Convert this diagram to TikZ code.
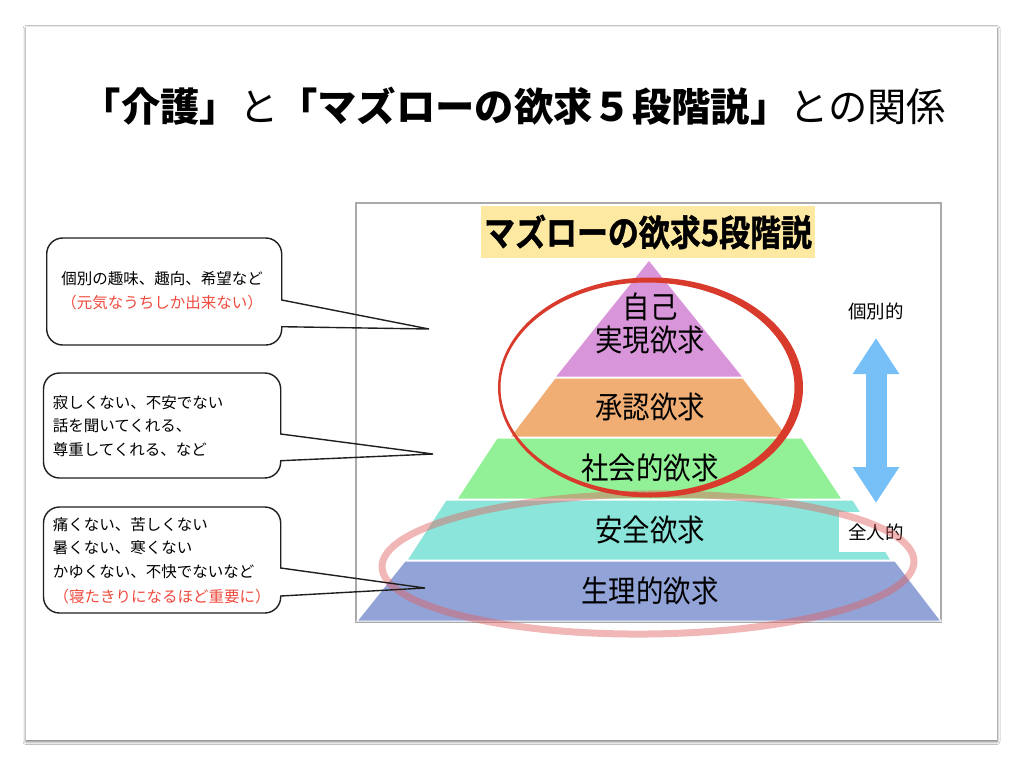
\documentclass[tikz,border=0pt]{standalone}
\usepackage{fontspec}
\setmainfont{Noto Sans CJK JP}
\newfontfamily\narrowjp[FakeStretch=0.9]{Noto Sans CJK JP}
\newfontfamily\heavyjp[FakeStretch=0.86,FakeBold=1.2,UprightFont={* Bold}]{Noto Sans CJK JP}
\usepackage{tikz}
\usetikzlibrary{arrows.meta,shadows,shadows.blur,positioning}
\definecolor{SelfPurple}{HTML}{D995D9}
\definecolor{EsteemOrange}{HTML}{F0AE74}
\definecolor{SocialGreen}{HTML}{92F097}
\definecolor{SafetyCyan}{HTML}{8CE5DA}
\definecolor{BodyBlue}{HTML}{92A3D8}
\definecolor{TitleYellow}{HTML}{FDE9A1}
\definecolor{RingRed}{HTML}{D83B2B}
\definecolor{RingPink}{HTML}{E06060}
\definecolor{ArrowBlue}{HTML}{77BFF7}
\definecolor{NoteRed}{HTML}{F04A3E}
\definecolor{FrameGray}{HTML}{AAAAAA}
\tikzset{
  slideshadow/.style={blur shadow={shadow xshift=0pt,shadow yshift=-1.5pt,shadow blur radius=3pt,shadow opacity=60}},
  headline/.style={inner sep=0pt,font=\fontsize{39.3}{41}\selectfont},
  boxtitle/.style={fill=TitleYellow,minimum width=334pt,minimum height=52pt,inner sep=0pt,font=\heavyjp\fontsize{36}{38}\selectfont},
  layer/.style={draw=white,line width=1pt},
  lvltext/.style={inner sep=0pt,align=center,font=\narrowjp\fontsize{30.5}{33}\selectfont},
  sidelabel/.style={inner sep=0pt,font=\fontsize{18.5}{20}\selectfont},
  updown/.style={{Triangle[length=36pt,width=44pt]}-{Triangle[length=36pt,width=44pt]},line width=21pt,color=ArrowBlue},
  note/.style={draw=black!88,line width=1.4pt},
  notetext/.style={inner sep=0pt,font=\fontsize{15.5}{23.7}\selectfont},
}
\begin{document}
\begin{tikzpicture}[x=1pt,y=-1pt]
  \useasboundingbox (0,0) rectangle (1024,768);
  \fill[white] (0,0) rectangle (1024,768);
  \fill[white,slideshadow] (26,27) rectangle (997,740);

  \node[headline] (title) at (514,106) {\textbf{「介護」}と\textbf{「マズローの欲求５段階説」}との関係};

  \draw[FrameGray,line width=1.3pt] (356,203) rectangle (941,622);
  \node[boxtitle] (maslow) at (648,232) {マズローの欲求5段階説};

  % pyramid, top to bottom
  \fill[layer,fill=SelfPurple] (649,260) -- (743,377) -- (555,377) -- cycle;
  \fill[layer,fill=EsteemOrange] (555,378) -- (743,378) -- (788,437) -- (510,437) -- cycle;
  \fill[layer,fill=SocialGreen] (497,438) -- (802,438) -- (842,499) -- (457,499) -- cycle;
  \fill[layer,fill=SafetyCyan] (446,500) -- (853,500) -- (891,560) -- (407,560) -- cycle;
  \fill[layer,fill=BodyBlue] (405,561) -- (895,561) -- (941,621) -- (357,621) -- cycle;
  \draw[layer] (555,377.5) -- (743,377.5) (497,437.5) -- (802,437.5) (446,499.5) -- (853,499.5) (405,560.5) -- (895,560.5);

  \node[lvltext] (self) at (650,323) {自己\\実現欲求};
  \node[lvltext] (esteem) at (650,407) {承認欲求};
  \node[lvltext] (social) at (650,468) {社会的欲求};
  \node[lvltext] (safety) at (650,530) {安全欲求};
  \node[lvltext] (body) at (650,591) {生理的欲求};

  % individual <-> whole person
  \fill[white] (839,512) rectangle (912,552);
  \node[sidelabel] (kobetsu) at (876,311) {個別的};
  \node[sidelabel] (zenjin) at (876,532) {全人的};
  \coordinate (uptip) at (876,338);
  \coordinate (downtip) at (876,503);
  \draw[updown] (uptip) -- (downtip);

  % rings
  \draw[RingPink,opacity=0.45,line width=7pt,rotate around={0.6:(648,564)}] (648,564) ellipse [x radius=266,y radius=70];
  \fill[RingRed,even odd rule] (650.5,387.5) ellipse [x radius=152.5,y radius=110] (647.5,387.5) ellipse [x radius=147,y radius=105];

  % callouts
  \coordinate (tipself) at (429,329);
  \coordinate (tipsocial) at (433,454);
  \coordinate (tipbody) at (425,588);
  \draw[note] (281.7,300) [rounded corners=16pt] -- (281.7,238) -- (46.7,238) -- (46.7,345) -- (281.7,345) [sharp corners] -- (281.7,326.7) -- (tipself) -- cycle;
  \draw[note] (280.7,434) [rounded corners=16pt] -- (280.7,373) -- (43.5,373) -- (43.5,478) -- (280.7,478) [sharp corners] -- (280.7,460.7) -- (tipsocial) -- cycle;
  \draw[note] (280.7,568) [rounded corners=16pt] -- (280.7,507) -- (43.5,507) -- (43.5,613) -- (280.7,613) [sharp corners] -- (280.7,596) -- (tipbody) -- cycle;

  \node[notetext,align=center] (noteself) at (162,291) {個別の趣味、趣向、希望など\\\textcolor{NoteRed}{（元気なうちしか出来ない）}};
  \node[notetext,align=left,anchor=west] (notesocial) at (52.7,426) {寂しくない、不安でない\\話を聞いてくれる、\\尊重してくれる、など};
  \node[notetext,align=left,anchor=west] (notebody) at (52.7,548) {痛くない、苦しくない\\暑くない、寒くない\\かゆくない、不快でないなど};
  \node[notetext,text=NoteRed] (notebodyred) at (162,596.5) {（寝たきりになるほど重要に）};
\end{tikzpicture}
\end{document}
